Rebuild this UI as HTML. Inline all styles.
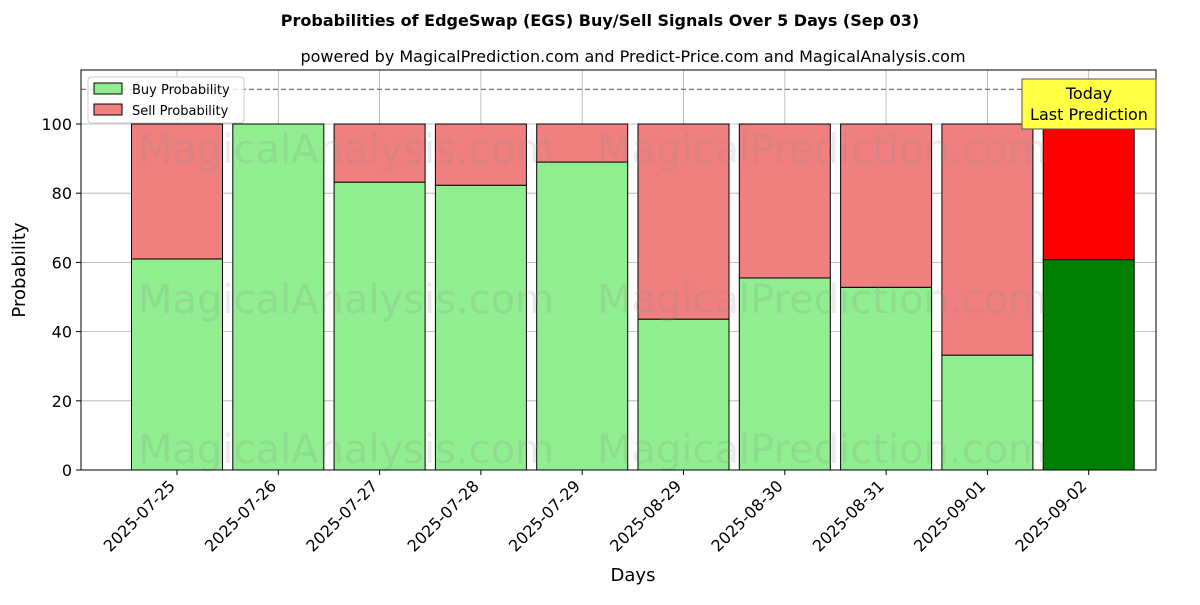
<!DOCTYPE html>
<html><head><meta charset="utf-8"><style>
body{margin:0;background:#fff;font-family:"Liberation Sans","DejaVu Sans",sans-serif}
svg text{font-family:"DejaVu Sans","Liberation Sans",sans-serif}
</style></head><body>
<svg id="chart" width="1200" height="600" xmlns="http://www.w3.org/2000/svg">
<rect width="1200" height="600" fill="#fff"/>
<text x="600" y="26" text-anchor="middle" font-size="16" font-weight="bold">Probabilities of EdgeSwap (EGS) Buy/Sell Signals Over 5 Days (Sep 03)</text>
<text x="633" y="62" text-anchor="middle" font-size="16">powered by MagicalPrediction.com and Predict-Price.com and MagicalAnalysis.com</text>
<g id="grid"></g>
<g id="bars"></g>
<g id="wm" fill="#888" fill-opacity="0.18" font-size="40">
<text x="346" y="163" text-anchor="middle">MagicalAnalysis.com</text>
<text x="822" y="163" text-anchor="middle">MagicalPrediction.com</text>
<text x="346" y="313" text-anchor="middle">MagicalAnalysis.com</text>
<text x="822" y="313" text-anchor="middle">MagicalPrediction.com</text>
<text x="346" y="463" text-anchor="middle">MagicalAnalysis.com</text>
<text x="822" y="463" text-anchor="middle">MagicalPrediction.com</text>
</g>
<line x1="81" x2="1156" y1="89.4" y2="89.4" stroke="#777" stroke-dasharray="5,3" stroke-width="1.2"/>
<rect x="81" y="70" width="1075" height="400" fill="none" stroke="#000" stroke-width="1"/>
<g id="axes"></g>
<text x="25" y="270" transform="rotate(-90 25 270)" text-anchor="middle" font-size="18">Probability</text>
<text x="633" y="581" text-anchor="middle" font-size="18">Days</text>
<g>
<rect x="88" y="77" width="156" height="46" fill="#fff" fill-opacity="0.8" stroke="#ccc" rx="3"/>
<rect x="94" y="83" width="28" height="11" fill="#90ee90" stroke="#000"/>
<text x="132" y="94" font-size="13">Buy Probability</text>
<rect x="94" y="104" width="28" height="11" fill="#f08080" stroke="#000"/>
<text x="132" y="115" font-size="13">Sell Probability</text>
</g>
<g>
<rect x="1022" y="79" width="134" height="50" fill="#ffff44" stroke="#555"/>
<text x="1089" y="99" text-anchor="middle" font-size="16">Today</text>
<text x="1089" y="120" text-anchor="middle" font-size="16">Last Prediction</text>
</g>
</svg>
<script>
const days=["2025-07-25","2025-07-26","2025-07-27","2025-07-28","2025-07-29","2025-08-29","2025-08-30","2025-08-31","2025-09-01","2025-09-02"];
const buy=[61,100,83.2,82.3,89,43.6,55.5,52.8,33.2,60.8];
const yTicks=[0,20,40,60,80,100];
const NS="http://www.w3.org/2000/svg";
const y=v=>470-v*3.46;
const x=i=>177+i*101.3;
const bw=91;
function mk(t,a,p){const e=document.createElementNS(NS,t);for(const k in a)e.setAttribute(k,a[k]);p.appendChild(e);return e;}
const grid=document.getElementById('grid'),bars=document.getElementById('bars'),axes=document.getElementById('axes');
yTicks.forEach(v=>{
 const g=mk('line',{x1:81,x2:1156,y1:y(v),y2:y(v),stroke:'#b0b0b0','stroke-width':0.8},grid);
 
 
 mk('line',{x1:76,x2:81,y1:y(v),y2:y(v),stroke:'#000'},axes);
 const t=mk('text',{x:72,y:y(v)+6,'text-anchor':'end','font-size':16},axes);t.textContent=v;
 
 
});
days.forEach((d,i)=>{
 const g=mk('line',{x1:x(i),x2:x(i),y1:70,y2:470,stroke:'#b0b0b0','stroke-width':0.8},grid);
 
 
 const last=i===days.length-1;
 const b=mk('rect',{x:x(i)-bw/2,y:y(buy[i]),width:bw,height:y(0)-y(buy[i]),fill:last?'#008000':'#90ee90',stroke:'#000','stroke-width':1},bars);
 
 
 const s=mk('rect',{x:x(i)-bw/2,y:y(100),width:bw,height:y(buy[i])-y(100),fill:last?'#ff0000':'#f08080',stroke:'#000','stroke-width':1},bars);
 
 
 mk('line',{x1:x(i),x2:x(i),y1:470,y2:475,stroke:'#000'},axes);
 const tx=x(i)-1, ty=487;
 const t=mk('text',{x:tx,y:ty,'text-anchor':'end','font-size':16,transform:`rotate(-45 ${tx} ${ty})`},axes);t.textContent=d;
 
 
});
</script>
</body></html>
